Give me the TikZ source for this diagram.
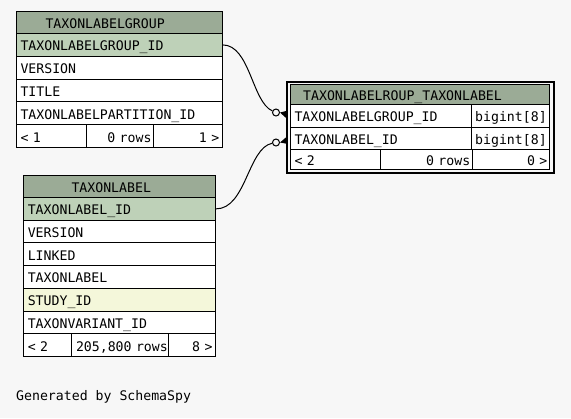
\documentclass[tikz,border=0pt]{standalone}
\usepackage{fontspec}
\newfontfamily\dejamono{DejaVu Sans Mono}
\newcommand\tfont{\dejamono\fontsize{13.2bp}{15bp}\selectfont}
\definecolor{bgc}{HTML}{F7F7F7}
\definecolor{hdrc}{HTML}{9BAB96}
\definecolor{pkc}{HTML}{BED1B8}
\definecolor{idxc}{HTML}{F4F7DA}
\tikzset{
  cellbox/.style={draw=black, line width=1bp, fill=white, anchor=north west, inner sep=0pt,
    font=\tfont, text height=12bp, text depth=0pt, align=left},
  hdrbox/.style={cellbox, fill=hdrc},
  pkbox/.style={cellbox, fill=pkc},
  idxbox/.style={cellbox, fill=idxc},
  rcell/.style={align=right},
  odot/.style={circle, draw=black, line width=1bp, fill=bgc, minimum size=7bp, inner sep=0pt},
  conn/.style={draw=black, line width=1bp},
  tA/.style={minimum width=205.7bp, text width=197.7bp, minimum height=22.8bp},
  tB/.style={minimum width=191.7bp, text width=183.7bp, minimum height=22.7bp},
}
\begin{document}
\begin{tikzpicture}[x=1bp,y=-1bp]
\fill[bgc] (0,0) rectangle (571,418);
\useasboundingbox (0,0) rectangle (571,418);

% Table TAXONLABELGROUP
\node[hdrbox, minimum width=205.7bp, text width=147.7bp, minimum height=22bp] (t1h) at (16,11) {TAXONLABELGROUP};
\node[pkbox, tA] (t1r1) at (16,33) {TAXONLABELGROUP\_ID};
\node[cellbox, tA] (t1r2) at (16,55.8) {VERSION};
\node[cellbox, tA] (t1r3) at (16,78.6) {TITLE};
\node[cellbox, tA] (t1r4) at (16,101.4) {TAXONLABELPARTITION\_ID};
\node[cellbox, minimum width=69.7bp, text width=61.7bp, minimum height=22.8bp] (t1f1) at (16,124.2) {< 1};
\node[cellbox, rcell, minimum width=67.3bp, text width=63.3bp, minimum height=22.8bp] (t1f2) at (85.7,124.2) {0 rows};
\node[cellbox, rcell, minimum width=68.7bp, text width=62.7bp, minimum height=22.8bp] (t1f3) at (153,124.2) {1 >};

% Table TAXONLABEL
\node[hdrbox, minimum width=191.7bp, text width=96.3bp, minimum height=22bp] (t2h) at (23.3,175) {TAXONLABEL};
\node[pkbox, tB] (t2r1) at (23.3,197) {TAXONLABEL\_ID};
\node[cellbox, tB] (t2r2) at (23.3,219.7) {VERSION};
\node[cellbox, tB] (t2r3) at (23.3,242.4) {LINKED};
\node[cellbox, tB] (t2r4) at (23.3,265.1) {TAXONLABEL};
\node[idxbox, tB] (t2r5) at (23.3,287.8) {STUDY\_ID};
\node[cellbox, tB] (t2r6) at (23.3,310.5) {TAXONVARIANT\_ID};
\node[cellbox, minimum width=47.7bp, text width=39.7bp, minimum height=22.7bp] (t2f1) at (23.3,333.2) {< 2};
\node[cellbox, minimum width=96.7bp, text width=87.7bp, minimum height=22.7bp] (t2f2) at (71,333.2) {\mbox{205,800 rows}};
\node[cellbox, rcell, minimum width=47.3bp, text width=41.3bp, minimum height=22.7bp] (t2f3) at (167.7,333.2) {8 >};

% Table TAXONLABELROUP_TAXONLABEL
\draw[line width=2bp] (287.2,82.2) rectangle (553.6,172.8);
\node[hdrbox, minimum width=259.3bp, text width=233.9bp, minimum height=20bp] (t3h) at (290,84.3) {TAXONLABELROUP\_TAXONLABEL};
\node[cellbox, minimum width=180.7bp, text width=172.7bp, minimum height=22.35bp] (t3r1) at (290,104.3) {TAXONLABELGROUP\_ID};
\node[cellbox, minimum width=78.6bp, text width=70.6bp, minimum height=22.35bp] (t3r1t) at (470.7,104.3) {bigint[8]};
\node[cellbox, minimum width=180.7bp, text width=172.7bp, minimum height=22.35bp] (t3r2) at (290,126.65) {TAXONLABEL\_ID};
\node[cellbox, minimum width=78.6bp, text width=70.6bp, minimum height=22.35bp] (t3r2t) at (470.7,126.65) {bigint[8]};
\node[cellbox, minimum width=90bp, text width=82bp, minimum height=20bp] (t3f1) at (290,149) {< 2};
\node[cellbox, rcell, minimum width=91.7bp, text width=87.7bp, minimum height=20bp] (t3f2) at (380,149) {0 rows};
\node[cellbox, rcell, minimum width=77.6bp, text width=72.6bp, minimum height=20bp] (t3f3) at (471.7,149) {0 >};

% connectors
\node[odot] (c1) at (276,112.5) {};
\node[odot] (c2) at (276,142.5) {};
\draw[conn] (t1r1.east) .. controls (250,45) and (252,102) .. (c1);
\draw[conn] (t2r1.east) .. controls (246,209) and (248,148) .. (c2);
\coordinate (k1a) at (287,110.8);
\coordinate (k1b) at (287,118.8);
\coordinate (k2a) at (287,136.5);
\coordinate (k2b) at (287,143.8);
\fill[black] (c1.east) -- (k1a) -- (k1b) -- cycle;
\fill[black] (c2.east) -- (k2a) -- (k2b) -- cycle;

\node[anchor=base west, font=\tfont, inner sep=0pt] (gen) at (16,400) {Generated by SchemaSpy};
\end{tikzpicture}
\end{document}
